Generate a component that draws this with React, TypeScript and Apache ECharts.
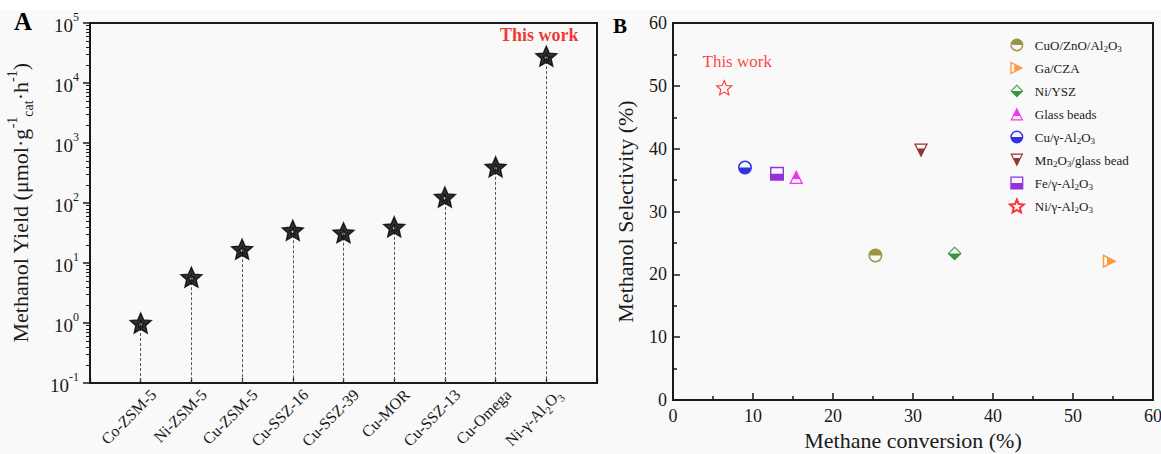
import React, { useEffect, useRef } from 'react';
import * as echarts from 'echarts';

// ---------- Panel A data ----------
const catalystsA = ['Co-ZSM-5', 'Ni-ZSM-5', 'Cu-ZSM-5', 'Cu-SSZ-16', 'Cu-SSZ-39', 'Cu-MOR', 'Cu-SSZ-13', 'Cu-Omega', 'Ni-γ-Al2O3'];
const yieldA = [1.0, 5.8, 17, 35, 32, 40, 126, 400, 28000];
const yTickExponentsA = [-1, 0, 1, 2, 3, 4, 5];

// ---------- Panel B data ----------
const catalystsB = ['CuO/ZnO/Al2O3', 'Ga/CZA', 'Ni/YSZ', 'Glass beads', 'Cu/γ-Al2O3', 'Mn2O3/glass bead', 'Fe/γ-Al2O3', 'Ni/γ-Al2O3'];
const conversionB = [25.3, 54.6, 35.2, 15.4, 9.0, 31.0, 13.0, 6.4];
const selectivityB = [23.0, 22.1, 23.3, 35.5, 37.0, 39.7, 36.0, 49.7];
const colorsB = ['#857a12', '#ff7f0e', '#0a7a0a', '#f000f0', '#0000e0', '#7a0000', '#7a00d6', '#ff0000'];

const FONT = "'Liberation Serif', 'Times New Roman', serif";
const INK = '#1a1a1a';

function starPts(cx: number, cy: number, R: number, r: number) {
  const pts: number[][] = [];
  for (let i = 0; i < 10; i++) {
    const a = -Math.PI / 2 + (i * Math.PI) / 5;
    const rad = i % 2 === 0 ? R : r;
    pts.push([cx + rad * Math.cos(a), cy + rad * Math.sin(a)]);
  }
  return pts;
}
function poly(pts: number[][]) {
  return 'M' + pts.map((p) => p[0].toFixed(3) + ',' + p[1].toFixed(3)).join(' L') + ' Z';
}

const ring = 'M0,10 A10,10 0 1,1 20,10 A10,10 0 1,1 0,10 Z M2.2,10 A7.8,7.8 0 1,0 17.8,10 A7.8,7.8 0 1,0 2.2,10 Z';
const SYM = {
  circleTop: 'path://' + ring + ' M2.2,10 A7.8,7.8 0 0,1 17.8,10 Z',
  circleBottom: 'path://' + ring + ' M17.8,10 A7.8,7.8 0 0,1 2.2,10 Z',
  triRight: 'path://M0,0 L20,10 L0,20 Z M2,3.236 L2,16.764 L15.528,10 Z M6,5.236 L15.528,10 L6,14.764 Z',
  diamondBottom: 'path://M10,0 L20,10 L10,20 L0,10 Z M10,2.12 L2.12,10 L10,17.88 L17.88,10 Z M17.88,10 L10,17.88 L2.12,10 Z',
  triUpTop: 'path://M10,0 L20,20 L0,20 Z M10,4.025 L2.9125,18.2 L17.0875,18.2 Z M10,4.025 L14.4875,13 L5.5125,13 Z',
  triDownBottom: 'path://M0,0 L20,0 L10,20 Z M2.9125,1.8 L10,15.975 L17.0875,1.8 Z M5.5125,7 L14.4875,7 L10,15.975 Z',
  squareBottom: 'path://M0,0 L20,0 L20,20 L0,20 Z M2,2 L2,18 L18,18 L18,2 Z M2,10 L18,10 L18,18 L2,18 Z',
  star: 'path://' + poly(starPts(10, 10, 10, 4.5)),
  starHighlight: 'path://' + poly(starPts(10, 10, 10, 4.6)) + ' ' + poly(starPts(10, 10.3, 3, 1.4).reverse()),
};
const symbolsB = [SYM.circleTop, SYM.triRight, SYM.diamondBottom, SYM.triUpTop, SYM.circleBottom, SYM.triDownBottom, SYM.squareBottom, SYM.star];

// subscript digits that directly follow a letter (chemical formulas)
const subRich = (n: string) => n.replace(/([A-Za-z])(\d+)/g, '$1{sub|$2}');

export default function App() {
  const ref = useRef<HTMLDivElement>(null);
  useEffect(() => {
    if (!ref.current) return;
    const chart = echarts.init(ref.current, undefined, { renderer: 'svg' });

    const minorVals: number[] = [];
    for (let e = yTickExponentsA[0]; e < yTickExponentsA[yTickExponentsA.length - 1]; e++) {
      for (let k = 2; k <= 9; k++) minorVals.push(k * Math.pow(10, e));
    }

    const catsA = ['', ...catalystsA, ''];
    const lastA = catalystsA.length - 1;

    const seriesB = catalystsB.map((name, i) => {
      const isStar = i === catalystsB.length - 1;
      const item: any = { value: [conversionB[i], selectivityB[i]] };
      if (isStar) {
        item.label = {
          show: true,
          formatter: 'This work',
          position: 'top',
          distance: 10,
          offset: [13, 0],
          color: '#ff1010',
          fontSize: 17,
          fontFamily: FONT,
        };
      }
      return {
        type: 'scatter',
        name,
        xAxisIndex: 1,
        yAxisIndex: 1,
        symbol: symbolsB[i],
        symbolKeepAspect: true,
        symbolSize: isStar ? 15 : 14,
        itemStyle: isStar
          ? { color: 'rgba(255,255,255,0)', borderColor: colorsB[i], borderWidth: 1.1 }
          : { color: colorsB[i] },
        data: [item],
        z: 5,
      };
    });

    const option: any = {
      animation: false,
      backgroundColor: '#f9f9f9',
      textStyle: { fontFamily: FONT, color: INK },
      grid: [
        { left: 90, top: 23, width: 507, height: 360, show: true, borderColor: INK, borderWidth: 2, backgroundColor: 'transparent', containLabel: false, outerBoundsMode: 'none' },
        { left: 673, top: 23, width: 480, height: 377, show: true, borderColor: INK, borderWidth: 2, backgroundColor: 'transparent', containLabel: false, outerBoundsMode: 'none' },
      ],
      legend: {
        data: catalystsB,
        orient: 'vertical',
        left: 1009,
        top: 37,
        itemWidth: 14,
        itemHeight: 13,
        itemGap: 7,
        padding: 0,
        formatter: (n: string) => subRich(n),
        textStyle: {
          fontFamily: FONT,
          fontSize: 13,
          color: INK,
          lineHeight: 16,
          padding: [0, 0, 0, 6],
          rich: { sub: { fontFamily: FONT, fontSize: 9, color: INK, verticalAlign: 'bottom', lineHeight: 16 } },
        },
      },
      xAxis: [
        {
          gridIndex: 0,
          type: 'category',
          data: catsA,
          boundaryGap: false,
          axisLine: { lineStyle: { color: INK, width: 2 } },
          axisTick: { inside: true, length: 5, lineStyle: { color: INK, width: 1.3 } },
          axisLabel: {
            rotate: 45,
            interval: 0,
            margin: 9,
            fontSize: 16,
            fontFamily: FONT,
            color: INK,
            padding: [18, -9, 0, 0],
            formatter: (v: string) => subRich(v),
            rich: { sub: { fontSize: 11, fontFamily: FONT, color: INK, verticalAlign: 'bottom', lineHeight: 22 } },
            lineHeight: 22,
          },
          splitLine: { show: false },
        },
        {
          gridIndex: 1,
          type: 'value',
          min: 0,
          max: 60,
          interval: 10,
          name: 'Methane conversion (%)',
          nameLocation: 'middle',
          nameGap: 26,
          nameTextStyle: { fontSize: 22, fontFamily: FONT, color: INK, verticalAlign: 'top' },
          axisLine: { lineStyle: { color: INK, width: 2 } },
          axisTick: { inside: true, length: 7, lineStyle: { color: INK, width: 1.5 } },
          minorTick: { show: true, splitNumber: 2, length: 4, lineStyle: { color: INK, width: 1.5 } },
          axisLabel: { fontSize: 18, fontFamily: FONT, color: INK, margin: 7 },
          splitLine: { show: false },
        },
      ],
      yAxis: [
        {
          gridIndex: 0,
          type: 'log',
          logBase: 10,
          min: Math.pow(10, yTickExponentsA[0]),
          max: Math.pow(10, yTickExponentsA[yTickExponentsA.length - 1]),
          position: 'left',
          offset: 0,
          name: 'Methanol Yield (μmol·g{sup|-1}{sub|cat}·h{sup|-1})',
          nameLocation: 'middle',
          nameGap: 55,
          nameTextStyle: {
            fontSize: 22,
            fontFamily: FONT,
            color: INK,
            lineHeight: 30,
            rich: {
              sup: { fontSize: 14, fontFamily: FONT, color: INK, verticalAlign: 'top', lineHeight: 30 },
              sub: { fontSize: 14, fontFamily: FONT, color: INK, verticalAlign: 'bottom', lineHeight: 30 },
            },
          },
          axisLine: { show: true, lineStyle: { color: INK, width: 2 } },
          axisTick: { show: true, inside: false, length: 7, lineStyle: { color: INK, width: 1.5 } },
          axisLabel: {
            margin: 11,
            formatter: (v: number) => '{base|10}{sup|' + Math.round(Math.log10(v)) + '}',
            rich: {
              base: { fontSize: 19, fontFamily: FONT, color: INK, verticalAlign: 'bottom', lineHeight: 24 },
              sup: { fontSize: 12, fontFamily: FONT, color: INK, verticalAlign: 'top', lineHeight: 24 },
            },
          },
          splitLine: { show: false },
        },
        {
          gridIndex: 1,
          type: 'value',
          min: 0,
          max: 60,
          interval: 10,
          name: 'Methanol Selectivity (%)',
          nameLocation: 'middle',
          nameGap: 37,
          nameTextStyle: { fontSize: 22, fontFamily: FONT, color: INK },
          axisLine: { lineStyle: { color: INK, width: 2 } },
          axisTick: { inside: true, length: 7, lineStyle: { color: INK, width: 1.5 } },
          minorTick: { show: true, splitNumber: 2, length: 4, lineStyle: { color: INK, width: 1.5 } },
          axisLabel: { fontSize: 18, fontFamily: FONT, color: INK, margin: 6 },
          splitLine: { show: false },
        },
        {
          gridIndex: 0,
          type: 'log',
          logBase: 10,
          min: Math.pow(10, yTickExponentsA[0]),
          max: Math.pow(10, yTickExponentsA[yTickExponentsA.length - 1]),
          position: 'left',
          offset: 0,
          axisLine: { show: false },
          axisLabel: { show: false },
          splitLine: { show: false },
          axisTick: { show: true, inside: false, length: 4, customValues: minorVals, lineStyle: { color: INK, width: 1 } },
        },
      ],
      series: [
        {
          type: 'scatter',
          name: 'drops',
          xAxisIndex: 0,
          yAxisIndex: 0,
          symbolSize: 0,
          data: catalystsA.map((c, i) => [c, yieldA[i]]),
          z: 1,
          silent: true,
          markLine: {
            silent: true,
            symbol: ['none', 'none'],
            label: { show: false },
            lineStyle: { color: '#555', width: 1, type: [3, 2] },
            data: catalystsA.map((c, i) => [
              { coord: [c, yieldA[i]] },
              { coord: [c, Math.pow(10, yTickExponentsA[0])] },
            ]),
          },
        },
        {
          type: 'scatter',
          name: 'yield',
          xAxisIndex: 0,
          yAxisIndex: 0,
          symbol: SYM.starHighlight,
          symbolKeepAspect: true,
          symbolSize: 21,
          itemStyle: { color: '#000', borderColor: '#000', borderWidth: 1.4 },
          z: 5,
          data: catalystsA.map((c, i) =>
            i === lastA
              ? {
                  value: [c, yieldA[i]],
                  label: {
                    show: true,
                    formatter: 'This work',
                    position: 'top',
                    distance: 1,
                    offset: [-7, 0],
                    color: '#ee0000',
                    fontWeight: 'bold',
                    fontSize: 18,
                    fontFamily: FONT,
                  },
                }
              : { value: [c, yieldA[i]] }
          ),
        },
        ...seriesB,
      ],
      graphic: [
        { type: 'rect', silent: true, z: -10, shape: { x: 0, y: 0, width: 1161, height: 10 }, style: { fill: '#ffffff' } },
        { type: 'text', left: 14, top: 9, style: { text: 'A', font: "bold 25px 'Liberation Serif', serif", fill: '#000' } },
        { type: 'text', left: 613, top: 15, style: { text: 'B', font: "bold 21px 'Liberation Serif', serif", fill: '#000' } },
      ],
    };

    chart.setOption(option);
    return () => chart.dispose();
  }, []);

  return <div ref={ref} style={{ position: 'fixed', left: 0, top: 0, width: 1161, height: 454 }} />;
}
